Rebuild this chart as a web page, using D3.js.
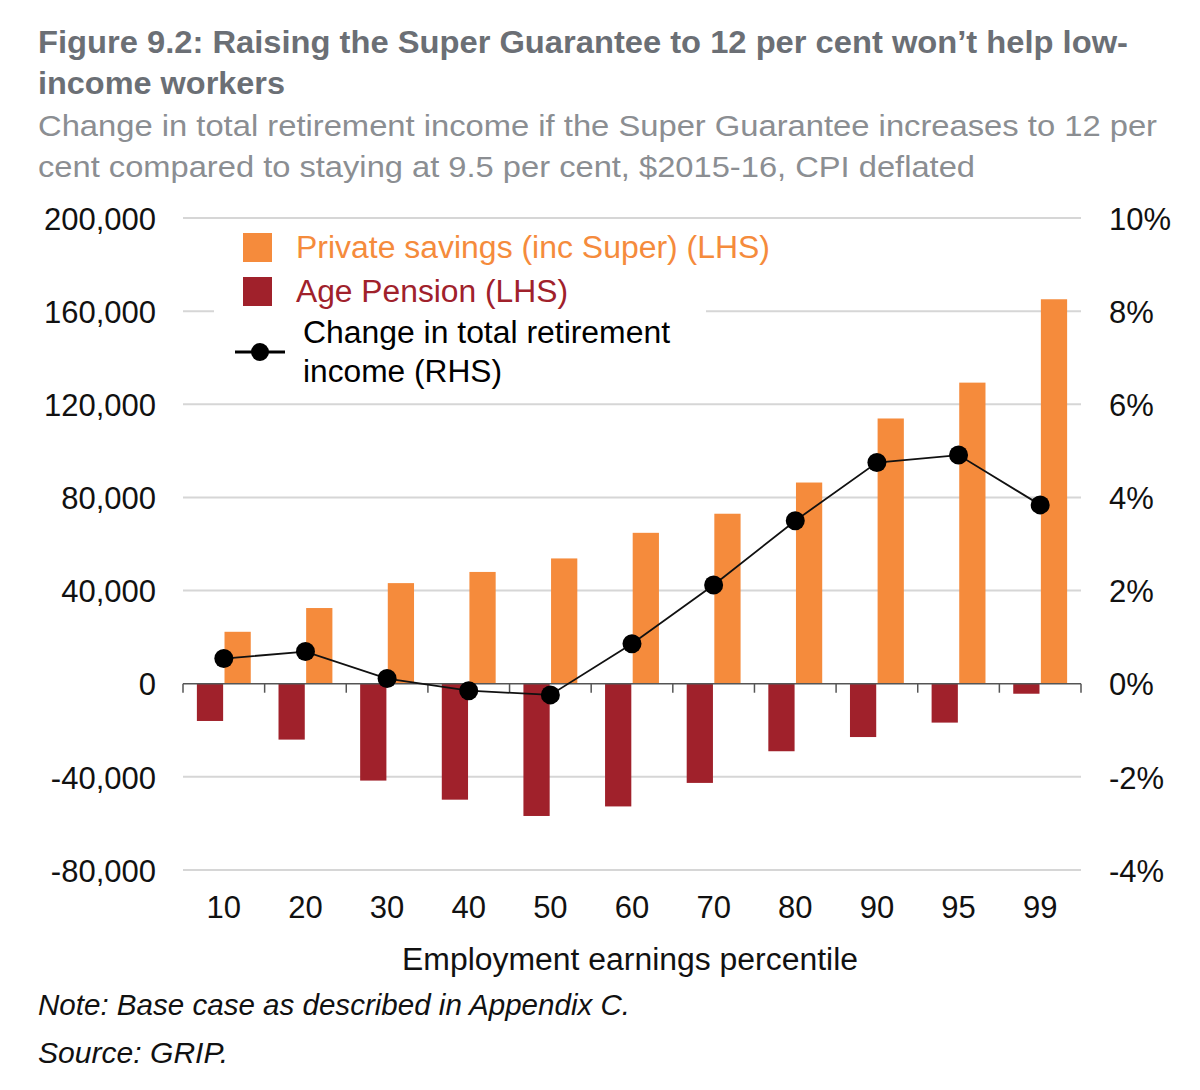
<!DOCTYPE html>
<html>
<head>
<meta charset="utf-8">
<script src="https://cdn.jsdelivr.net/npm/d3@7"></script>
<style>
  html, body { margin: 0; padding: 0; background: #fff; }
  svg { display: block; font-family: "Liberation Sans", Arial, Helvetica, sans-serif; }
</style>
</head>
<body>
<svg id="chart" width="1200" height="1090"></svg>
<script>
// ---- data ----
const categories = ["10", "20", "30", "40", "50", "60", "70", "80", "90", "95", "99"];
const privateSavings = [22300, 32500, 43200, 48000, 53800, 64800, 73000, 86400, 113900, 129300, 165100];
const agePension = [-16000, -24000, -41600, -49800, -56800, -52700, -42600, -29000, -22900, -16700, -4300];
const totalChange = [0.54, 0.69, 0.11, -0.15, -0.24, 0.86, 2.12, 3.50, 4.75, 4.91, 3.84];
const leftTicks = [-80000, -40000, 0, 40000, 80000, 120000, 160000, 200000];
const rightTicks = [-4, -2, 0, 2, 4, 6, 8, 10];

const titleLines = ["Figure 9.2: Raising the Super Guarantee to 12 per cent won\u2019t help low-", "income workers"];
const subtitleLines = ["Change in total retirement income if the Super Guarantee increases to 12 per", "cent compared to staying at 9.5 per cent, $2015-16, CPI deflated"];
const xTitle = "Employment earnings percentile";
const noteText = "Note: Base case as described in Appendix C.";
const sourceText = "Source: GRIP.";
const seriesNames = ["Private savings (inc Super) (LHS)", "Age Pension (LHS)", ["Change in total retirement", "income (RHS)"]];

const ORANGE = "#F58B3C", RED = "#A0212B";

const svg = d3.select("#chart");
const pL = 183, pR = 1081, pT = 218, pB = 870;

const x = d3.scaleBand().domain(categories).range([pL, pR]).padding(0);
const bw = x.bandwidth();
const x1 = d3.scaleBand().domain(["pension", "savings"]).range([bw * 0.17, bw * 0.83]).paddingInner(0.05);
const yL = d3.scaleLinear().domain([-80000, 200000]).range([pB, pT]);
const yR = d3.scaleLinear().domain([-4, 10]).range([pB, pT]);

// titles
const tl = [[titleLines[0], 53, 1090], [titleLines[1], 94, 247]];
tl.forEach(([t, yy, w]) => {
  svg.append("text").attr("x", 38).attr("y", yy).text(t)
    .attr("font-size", 31).attr("font-weight", "bold").attr("fill", "#6b6f75")
    .attr("textLength", w).attr("lengthAdjust", "spacingAndGlyphs");
});
const sl = [[subtitleLines[0], 136, 1119], [subtitleLines[1], 177, 937]];
sl.forEach(([t, yy, w]) => {
  svg.append("text").attr("x", 38).attr("y", yy).text(t)
    .attr("font-size", 29).attr("fill", "#8b8e92")
    .attr("textLength", w).attr("lengthAdjust", "spacingAndGlyphs");
});

// gridlines
svg.append("g").selectAll("line").data(leftTicks.filter(d => d !== 0)).join("line")
  .attr("x1", pL).attr("x2", pR)
  .attr("y1", d => yL(d)).attr("y2", d => yL(d))
  .attr("stroke", "#d6d6d6").attr("stroke-width", 2);

// left axis labels
const fmtL = d3.format(",");
const gL = svg.append("g").attr("transform", `translate(${pL - 27},0)`)
  .call(d3.axisLeft(yL).tickValues(leftTicks).tickFormat(d => fmtL(d).replace("\u2212", "-")).tickSize(0).tickPadding(0));
gL.select(".domain").remove();
gL.selectAll("text").attr("font-size", 31).attr("fill", "#111").attr("font-family", "Liberation Sans, Arial, sans-serif").attr("dy", "0.36em");

// right axis labels
const gR = svg.append("g").attr("transform", `translate(${pR + 28},0)`)
  .call(d3.axisRight(yR).tickValues(rightTicks).tickFormat(d => d + "%").tickSize(0).tickPadding(0));
gR.select(".domain").remove();
gR.selectAll("text").attr("font-size", 31).attr("fill", "#111").attr("font-family", "Liberation Sans, Arial, sans-serif").attr("dy", "0.36em");

// bars
const groups = svg.append("g").selectAll("g").data(categories).join("g")
  .attr("transform", d => `translate(${x(d)},0)`);
groups.append("rect")
  .attr("x", x1("savings")).attr("width", x1.bandwidth())
  .attr("y", (d, i) => yL(privateSavings[i]))
  .attr("height", (d, i) => yL(0) - yL(privateSavings[i]))
  .attr("fill", ORANGE);
groups.append("rect")
  .attr("x", x1("pension")).attr("width", x1.bandwidth())
  .attr("y", yL(0))
  .attr("height", (d, i) => yL(agePension[i]) - yL(0))
  .attr("fill", RED);

// zero axis with ticks at band boundaries
const gX = svg.append("g").attr("transform", `translate(0,${yL(0)})`);
gX.append("line").attr("x1", pL).attr("x2", pR).attr("stroke", "#555").attr("stroke-width", 1.5);
const bounds = categories.map(c => x(c)).concat([pR]);
gX.selectAll("line.tk").data(bounds).join("line").attr("class", "tk")
  .attr("x1", d => d).attr("x2", d => d).attr("y1", 0).attr("y2", 9)
  .attr("stroke", "#555").attr("stroke-width", 1.5);

// x labels
const gXL = svg.append("g").attr("transform", `translate(0,${pB})`)
  .call(d3.axisBottom(x).tickSize(0).tickPadding(0));
gXL.select(".domain").remove();
gXL.selectAll("text").attr("font-size", 31).attr("fill", "#111").attr("font-family", "Liberation Sans, Arial, sans-serif")
  .attr("dy", null).attr("y", 48);

svg.append("text").attr("x", 402).attr("y", 970)
  .attr("font-size", 31).attr("fill", "#111").text(xTitle)
  .attr("textLength", 456).attr("lengthAdjust", "spacingAndGlyphs");

// line
const line = d3.line().x((d, i) => x(categories[i]) + bw / 2).y(d => yR(d));
svg.append("path").datum(totalChange).attr("d", line)
  .attr("fill", "none").attr("stroke", "#111").attr("stroke-width", 1.8);
svg.append("g").selectAll("circle").data(totalChange).join("circle")
  .attr("cx", (d, i) => x(categories[i]) + bw / 2).attr("cy", d => yR(d))
  .attr("r", 9.5).attr("fill", "#000");

// legend
const lg = svg.append("g");
lg.append("rect").attr("x", 214).attr("y", 226).attr("width", 492).attr("height", 170).attr("fill", "#fff");
lg.append("rect").attr("x", 243).attr("y", 233).attr("width", 29).attr("height", 29).attr("fill", ORANGE);
lg.append("text").attr("x", 296).attr("y", 258).attr("font-size", 31).attr("fill", ORANGE).text(seriesNames[0])
  .attr("textLength", 474).attr("lengthAdjust", "spacingAndGlyphs");
lg.append("rect").attr("x", 243).attr("y", 277).attr("width", 29).attr("height", 29).attr("fill", RED);
lg.append("text").attr("x", 296).attr("y", 302).attr("font-size", 31).attr("fill", RED).text(seriesNames[1])
  .attr("textLength", 272).attr("lengthAdjust", "spacingAndGlyphs");
lg.append("line").attr("x1", 235).attr("x2", 285).attr("y1", 352).attr("y2", 352).attr("stroke", "#000").attr("stroke-width", 3);
lg.append("circle").attr("cx", 260).attr("cy", 352).attr("r", 9).attr("fill", "#000");
lg.append("text").attr("x", 303).attr("y", 343).attr("font-size", 31).attr("fill", "#000").text(seriesNames[2][0])
  .attr("textLength", 367).attr("lengthAdjust", "spacingAndGlyphs");
lg.append("text").attr("x", 303).attr("y", 382).attr("font-size", 31).attr("fill", "#000").text(seriesNames[2][1])
  .attr("textLength", 199).attr("lengthAdjust", "spacingAndGlyphs");

// notes
svg.append("text").attr("x", 38).attr("y", 1015).attr("font-size", 29).attr("font-style", "italic").attr("fill", "#111")
  .text(noteText).attr("textLength", 592).attr("lengthAdjust", "spacingAndGlyphs");
svg.append("text").attr("x", 38).attr("y", 1063).attr("font-size", 29).attr("font-style", "italic").attr("fill", "#111")
  .text(sourceText).attr("textLength", 190).attr("lengthAdjust", "spacingAndGlyphs");
</script>
</body>
</html>
